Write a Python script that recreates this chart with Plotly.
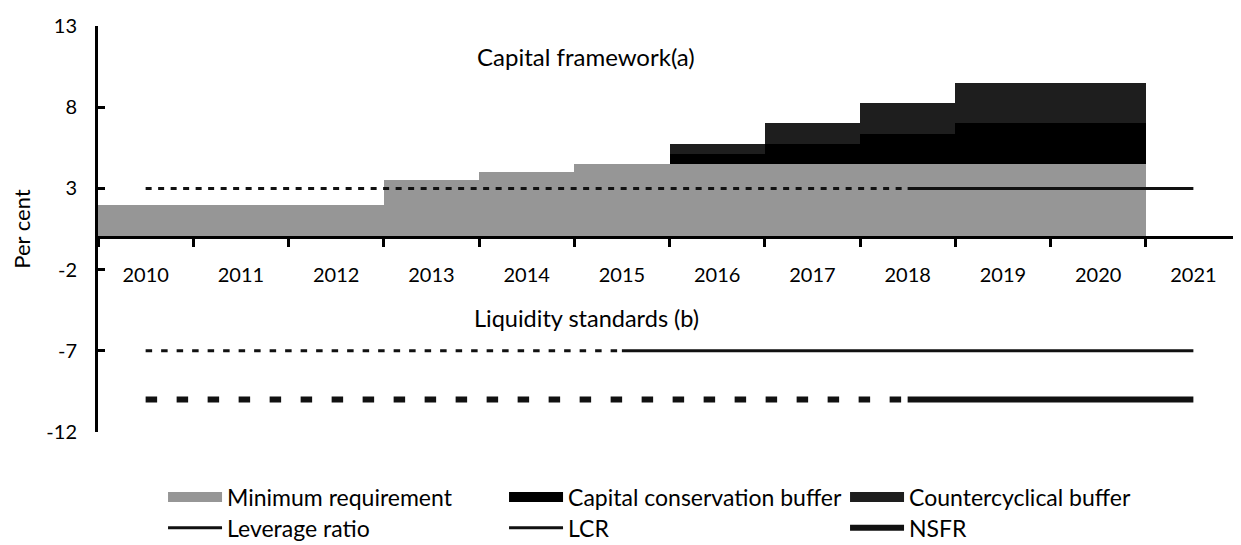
import plotly.graph_objects as go

# ---------------- data ----------------
years = ["2010", "2011", "2012", "2013", "2014", "2015",
         "2016", "2017", "2018", "2019", "2020", "2021"]
minimum_requirement = [2.0, 2.0, 2.0, 3.5, 4.0, 4.5, 4.5, 4.5, 4.5, 4.5, 4.5, None]
conservation_buffer = [0, 0, 0, 0, 0, 0, 0.625, 1.25, 1.875, 2.5, 2.5, None]
countercyclical_buffer = [0, 0, 0, 0, 0, 0, 0.625, 1.25, 1.875, 2.5, 2.5, None]

leverage_phase_x = ["2010", "2018"]
leverage_live_x = ["2018", "2021"]
leverage_level = 3

lcr_phase_x = ["2010", "2015"]
lcr_live_x = ["2015", "2021"]
lcr_level = -7

nsfr_phase_x = ["2010", "2018"]
nsfr_live_x = ["2018", "2021"]
nsfr_level = -10

y_ticks = [-12, -7, -2, 3, 8, 13]

FONT = "Lato"
GREY = "#969696"
BLACK = "#000000"
DARK = "#1e1e1e"
LINE = "#111111"

fig = go.Figure()

# bars (legend shown via proxies below)
fig.add_trace(go.Bar(x=years, y=minimum_requirement, marker=dict(color=GREY, line=dict(width=0)),
                     width=1, showlegend=False, name="Minimum requirement"))
fig.add_trace(go.Bar(x=years, y=conservation_buffer, marker=dict(color=BLACK, line=dict(width=0)),
                     width=1, showlegend=False, name="Capital conservation buffer"))
fig.add_trace(go.Bar(x=years, y=countercyclical_buffer, marker=dict(color=DARK, line=dict(width=0)),
                     width=1, showlegend=False, name="Countercyclical buffer"))

# lines
def hline(xs, level, width, dash, name, show, legend):
    fig.add_trace(go.Scatter(x=xs, y=[level] * len(xs), mode="lines",
                             line=dict(color=LINE, width=width, dash=dash),
                             name=name, showlegend=show, legend=legend,
                             hoverinfo="skip"))

hline(leverage_phase_x, leverage_level, 3, "6px,6.5px", "Leverage ratio", False, "legend2")
hline(leverage_live_x, leverage_level, 3, "solid", "Leverage ratio", True, "legend2")
hline(lcr_phase_x, lcr_level, 3, "6.5px,9px", "LCR", False, "legend2")
hline(lcr_live_x, lcr_level, 3, "solid", "LCR", True, "legend2")
hline(nsfr_phase_x, nsfr_level, 6, "11.5px,19.5px", "NSFR", False, "legend2")
hline(nsfr_live_x, nsfr_level, 6, "solid", "NSFR", True, "legend2")

# legend proxies for the bar series (wide swatches)
for nm, col in [("Minimum requirement", GREY), ("Capital conservation buffer", BLACK),
                ("Countercyclical buffer", DARK)]:
    fig.add_trace(go.Scatter(x=[None], y=[None], mode="lines", line=dict(color=col, width=10),
                             name=nm, showlegend=True, legend="legend"))

fig.update_layout(
    width=1233, height=537,
    margin=dict(l=90, r=0, t=18, b=113, autoexpand=False),
    paper_bgcolor="white", plot_bgcolor="white",
    barmode="stack", bargap=0,
    font=dict(family=FONT, size=20, color="black"),
    xaxis=dict(
        type="category", categoryorder="array", categoryarray=years,
        range=[-0.5, 11.5], anchor="free", position=12 / 25,
        showline=True, linecolor="black", linewidth=3,
        ticks="outside", tickson="boundaries", ticklen=8, tickwidth=3, tickcolor="black",
        ticklabelstandoff=19, showgrid=False, zeroline=False,
        tickfont=dict(family=FONT, size=20, color="black"),
    ),
    yaxis=dict(
        range=[-12, 13], tickvals=y_ticks, ticktext=[str(v) for v in y_ticks],
        showline=True, linecolor="black", linewidth=3,
        ticks="inside", ticklen=7, tickwidth=3, tickcolor="black",
        ticklabelstandoff=14, showgrid=False, zeroline=False,
        tickfont=dict(family=FONT, size=20, color="black"),
        title=dict(text="Per cent", font=dict(family=FONT, size=22, color="black"), standoff=12),
    ),
    legend=dict(orientation="h", x=0.0569, xanchor="left", y=-0.160, yanchor="middle",
                itemwidth=54, entrywidth=272, traceorder="normal",
                font=dict(family=FONT, size=23, color="black"), bgcolor="rgba(0,0,0,0)"),
    legend2=dict(orientation="h", x=0.0569, xanchor="left", y=-0.236, yanchor="middle",
                 itemwidth=54, entrywidth=272, traceorder="normal",
                 font=dict(family=FONT, size=23, color="black"), bgcolor="rgba(0,0,0,0)"),
    annotations=[
        dict(text="Capital framework(a)", xref="paper", yref="y", x=0.427, y=11.1,
             showarrow=False, font=dict(family=FONT, size=24, color="black")),
        dict(text="Liquidity standards (b)", xref="paper", yref="y", x=0.427, y=-5,
             showarrow=False, font=dict(family=FONT, size=23.5, color="black")),
    ],
)

fig.write_html("out.html")
